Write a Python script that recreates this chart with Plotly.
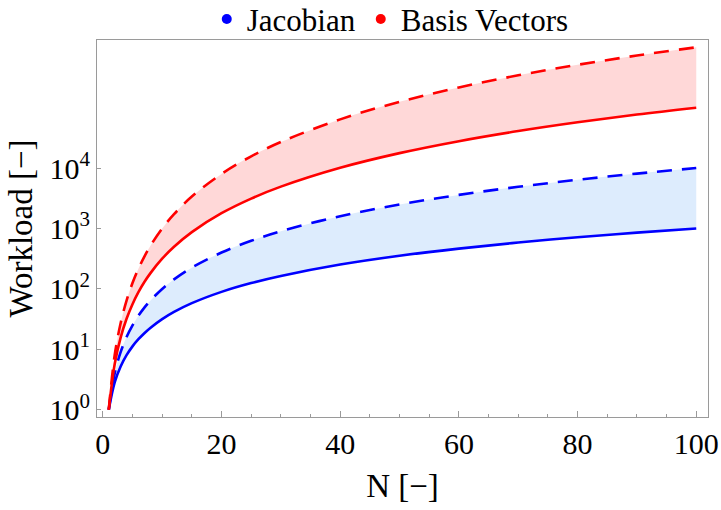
import plotly.graph_objects as go

N = [1, 2, 3, 4, 5, 6, 7, 8, 10, 12, 15, 20, 25, 30, 40, 50, 60, 70, 80, 90, 100]

# Jacobian: lower (solid) and upper (dashed) bounds
jac_low = [1, 2.83, 5.2, 8, 11.2, 14.7, 18.5, 22.6, 31.6, 41.6, 58.1, 89.4,
           125, 164, 253, 354, 465, 586, 716, 854, 1000]
jac_high = [1, 4, 9, 16, 25, 36, 49, 64, 100, 144, 225, 400,
            625, 900, 1600, 2500, 3600, 4900, 6400, 8100, 10000]

# Basis vectors: lower (solid) and upper (dashed) bounds
bv_low = [1, 5.66, 15.6, 32, 55.9, 88.2, 130, 181, 316, 499, 871, 1789,
          3125, 4930, 10119, 17678, 27885, 40996, 57243, 76843, 100000]
bv_high = [1, 8, 27, 64, 125, 216, 343, 512, 1000, 1728, 3375, 8000,
           15625, 27000, 64000, 125000, 216000, 343000, 512000, 729000, 1000000]

y_tickvals = [1, 10, 100, 1000, 10000]
y_ticktext = ["10<sup>0</sup>", "10<sup>1</sup>", "10<sup>2</sup>",
              "10<sup>3</sup>", "10<sup>4</sup>"]
x_tickvals = [0, 20, 40, 60, 80, 100]

BLUE = "#0000ff"
RED = "#ff0000"
BLUE_FILL = "#ddecfd"
RED_FILL = "#ffd8d8"
FRAME = "#9a9a9a"
DASH = "15px,10px"
LW = 2.6

fig = go.Figure()

fig.add_trace(go.Scatter(x=N, y=jac_low, mode="lines", line=dict(color=BLUE, width=LW, shape="spline"),
                         showlegend=False, hoverinfo="skip"))
fig.add_trace(go.Scatter(x=N, y=jac_high, mode="lines", fill="tonexty", fillcolor=BLUE_FILL,
                         line=dict(color=BLUE, width=LW, dash=DASH, shape="spline"),
                         showlegend=False, hoverinfo="skip"))
fig.add_trace(go.Scatter(x=N, y=bv_low, mode="lines", line=dict(color=RED, width=LW, shape="spline"),
                         showlegend=False, hoverinfo="skip"))
fig.add_trace(go.Scatter(x=N, y=bv_high, mode="lines", fill="tonexty", fillcolor=RED_FILL,
                         line=dict(color=RED, width=LW, dash=DASH, shape="spline"),
                         showlegend=False, hoverinfo="skip"))

# Legend entries shown as dots
fig.add_trace(go.Scatter(x=[None], y=[None], mode="markers", name="Jacobian",
                         marker=dict(color=BLUE, size=10)))
fig.add_trace(go.Scatter(x=[None], y=[None], mode="markers", name="Basis Vectors",
                         marker=dict(color=RED, size=10)))

fig.update_layout(
    width=721, height=510,
    margin=dict(l=97, r=13, t=40, b=93, autoexpand=False),
    plot_bgcolor="white", paper_bgcolor="white",
    font=dict(family="Liberation Serif", color="black", size=30),
    legend=dict(orientation="h", x=0.48, xanchor="center", xref="paper",
                y=0.962, yref="container", yanchor="middle", traceorder="normal",
                font=dict(size=31), itemwidth=30, tracegroupgap=0,
                bgcolor="rgba(0,0,0,0)"),
    xaxis=dict(
        range=[-0.98, 101.98], tickvals=x_tickvals, automargin=False,
        ticks="inside", ticklen=6, tickcolor=FRAME, tickwidth=1,
        minor=dict(dtick=5, tick0=0, ticks="inside", ticklen=3, tickcolor=FRAME, showgrid=False),
        showline=True, linecolor=FRAME, linewidth=1, mirror=True,
        showgrid=False, zeroline=False,
        tickfont=dict(size=30),
        title=dict(text="N [−]", font=dict(size=33), standoff=14),
    ),
    yaxis=dict(
        type="log", range=[-0.12, 6.12], automargin=False,
        tickvals=y_tickvals, ticktext=y_ticktext,
        ticks="inside", ticklen=4, tickcolor=FRAME, tickwidth=1,
        showline=True, linecolor=FRAME, linewidth=1, mirror=True,
        showgrid=False, zeroline=False,
        tickfont=dict(size=30),
        title=dict(text="Workload [−]", font=dict(size=33), standoff=6),
    ),
)

fig.write_html("out.html")
